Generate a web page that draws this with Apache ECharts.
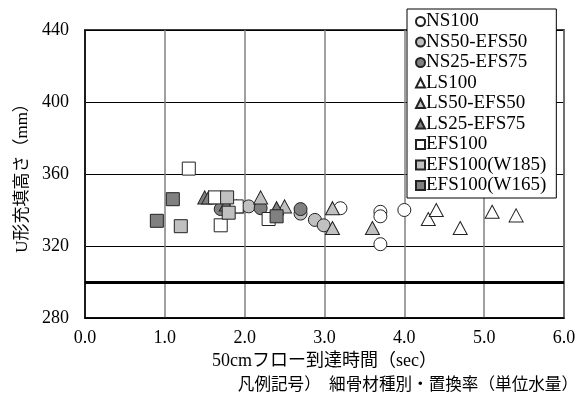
<!DOCTYPE html>
<html><head><meta charset="utf-8">
<script src="https://cdn.jsdelivr.net/npm/echarts@6/dist/echarts.min.js"></script>
<style>html,body{margin:0;padding:0;background:#fff}#c{width:579px;height:397px}</style>
</head><body><div id="c"></div>
<script>
const seriesNames = ['NS100','NS50-EFS50','NS25-EFS75','LS100','LS50-EFS50','LS25-EFS75','EFS100','EFS100(W185)','EFS100(W165)'];
const NS100 = [[3.2,341],[3.7,339],[3.7,336.5],[3.7,321],[4.0,340]];
const NS50_EFS50 = [[2.05,342],[2.7,338],[2.88,334.5],[2.99,331.5]];
const NS25_EFS75 = [[1.7,340.5],[2.2,341],[2.7,340.5]];
const LS100 = [[4.3,335],[4.4,340],[4.7,330],[5.1,339],[5.4,337]];
const LS50_EFS50 = [[2.2,347],[2.5,342],[3.1,341],[3.1,330],[3.6,330]];
const LS25_EFS75 = [[1.5,347],[1.55,347],[1.77,343],[1.9,342],[2.4,341]];
const EFS100 = [[1.3,363],[1.63,347],[1.7,331.5],[1.9,342],[2.3,335]];
const EFS100_W185 = [[1.2,331],[1.78,347],[1.8,338.5]];
const EFS100_W165 = [[0.9,334],[1.1,346],[2.4,336.5]];
const refLineY = 300;
const xTicks = {min:0, max:6, interval:1};
const yTicks = {min:280, max:440, interval:40};
const xAxisTitle = '50cmフロー到達時間（sec）';
const yAxisTitle = 'U形充填高さ（mm）';
const footNote = '凡例記号）　細骨材種別・置換率（単位水量）';

const seriesData = [NS100,NS50_EFS50,NS25_EFS75,LS100,LS50_EFS50,LS25_EFS75,EFS100,EFS100_W185,EFS100_W165];
const symbols = ['circle','circle','circle','triangle','triangle','triangle','rect','rect','rect'];
const fills = ['#ffffff','#c0c0c0','#808080','#ffffff','#c0c0c0','#808080','#ffffff','#c0c0c0','#808080'];
const serif = '"Liberation Serif","Noto Sans CJK JP",serif';

const series = seriesNames.map((n,i)=>({
  name:n, type:'scatter', data:seriesData[i], symbol:symbols[i],
  symbolSize: symbols[i]==='triangle'?[14,13]:13,
  itemStyle:{color:fills[i], borderColor:'#222', borderWidth:1, opacity:1},
  z: 3+i
}));
series[0].markLine = {silent:true, symbol:'none', label:{show:false},
  lineStyle:{color:'#000', width:3, type:'solid'}, data:[{yAxis:refLineY}], z:2};

const chart = echarts.init(document.getElementById('c'), null, {renderer:'canvas'});
chart.setOption({
  animation:false,
  grid:{left:85, right:15, top:30, bottom:79, show:true, borderColor:'#000', borderWidth:1.5, backgroundColor:'transparent'},
  xAxis:{type:'value', min:xTicks.min, max:xTicks.max, interval:xTicks.interval,
    name:xAxisTitle, nameLocation:'middle', nameGap:30,
    nameTextStyle:{fontFamily:serif, fontSize:18, color:'#000'},
    axisLine:{show:true, onZero:false, lineStyle:{color:'#000', width:1.5}},
    axisTick:{show:false},
    axisLabel:{fontFamily:serif, fontSize:18, color:'#000', margin:11, formatter:v=>v.toFixed(1)},
    splitLine:{show:true, lineStyle:{color:'#808080', width:1.5}}},
  yAxis:{type:'value', min:yTicks.min, max:yTicks.max, interval:yTicks.interval,
    name:yAxisTitle, nameLocation:'middle', nameGap:54, nameRotate:90,
    nameTextStyle:{fontFamily:serif, fontSize:17, color:'#000'},
    axisLine:{show:true, onZero:false, lineStyle:{color:'#000', width:1.5}},
    axisTick:{show:false},
    axisLabel:{fontFamily:serif, fontSize:18, color:'#000', margin:16},
    splitLine:{show:true, lineStyle:{color:'#000', width:1}}},
  legend:{orient:'vertical', left:407, top:9, data:seriesNames,
    backgroundColor:'#fff', borderColor:'#000', borderWidth:1,
    padding:[3,10,3,8], itemWidth:9, itemHeight:9, itemGap:1.5,
    textStyle:{fontFamily:serif, fontSize:19, color:'#000', padding:[0,0,0,-4], lineHeight:18.4}},
  graphic:[{type:'text', right:1, top:375, style:{text:footNote, font:'16.6px "Noto Sans CJK JP"', fill:'#000'}}],
  series
});
</script></body></html>
